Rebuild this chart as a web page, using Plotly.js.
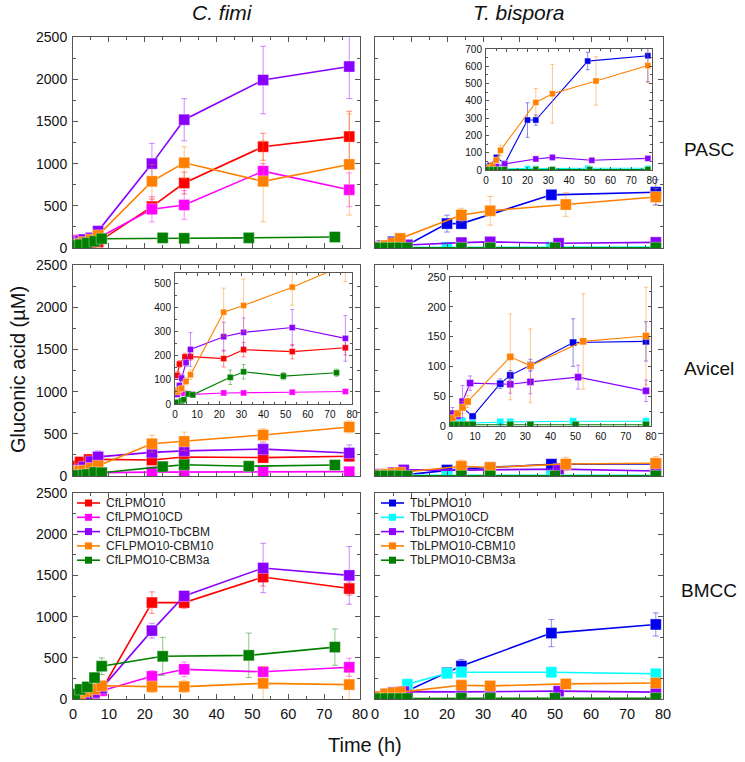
<!DOCTYPE html>
<html>
<head>
<meta charset="utf-8">
<script src="https://cdn.plot.ly/plotly-3.0.1.min.js"></script>
<style>html,body{margin:0;padding:0;background:#fff;}#chart{width:745px;height:762px;}</style>
</head>
<body>
<div id="chart"></div>
<script>
// ---------- Labels ----------
const cfNames = ['CfLPMO10', 'CfLPMO10CD', 'CfLPMO10-TbCBM', 'CFLPMO10-CBM10', 'CfLPMO10-CBM3a'];
const tbNames = ['TbLPMO10', 'TbLPMO10CD', 'TbLPMO10-CfCBM', 'TbLPMO10-CBM10', 'TbLPMO10-CBM3a'];
const substrates = ['PASC', 'Avicel', 'BMCC'];
const organisms = ['C. fimi', 'T. bispora'];
const xTicks = [0, 10, 20, 30, 40, 50, 60, 70, 80];

// ---------- C. fimi, PASC ----------
const cfPascRedT = [1, 2, 3, 5, 7, 22, 31, 53, 77];
const cfPascRedY = [20, 30, 35, 45, 70, 490, 770, 1200, 1320];
const cfPascRedE = [10, 10, 10, 15, 20, 90, 130, 160, 300];
const cfPascMagT = [1, 2, 3, 5, 7, 22, 31, 53, 77];
const cfPascMagY = [90, 95, 100, 110, 120, 460, 510, 910, 690];
const cfPascMagE = [10, 10, 10, 15, 20, 150, 170, 90, 200];
const cfPascPurT = [1, 2, 3, 5, 7, 22, 31, 53, 77];
const cfPascPurY = [60, 80, 100, 120, 200, 1000, 1520, 1990, 2150];
const cfPascPurE = [10, 10, 15, 20, 30, 240, 250, 400, 380];
const cfPascOraT = [1, 2, 3, 5, 7, 22, 31, 53, 77];
const cfPascOraY = [40, 50, 70, 100, 150, 790, 1010, 790, 990];
const cfPascOraE = [10, 10, 15, 20, 30, 200, 190, 480, 600];
const cfPascGrnT = [1, 2, 4, 6, 8, 25, 31, 49, 73];
const cfPascGrnY = [30, 40, 60, 80, 110, 120, 115, 120, 130];
const cfPascGrnE = [5, 5, 5, 10, 10, 10, 10, 10, 10];

// ---------- C. fimi, Avicel ----------
const cfAviRedT = [1, 2, 4.5, 7, 22, 31, 53, 77];
const cfAviRedY = [119, 166, 196, 197, 189, 226, 218, 234];
const cfAviRedE = [15, 15, 15, 15, 35, 30, 30, 30];
const cfAviMagT = [1, 2, 4, 6, 8, 22, 31, 53, 77];
const cfAviMagY = [57, 50, 45, 42, 40, 46, 46, 49, 52];
const cfAviMagE = [5, 5, 5, 5, 5, 5, 5, 5, 5];
const cfAviPurT = [1, 2, 3, 5, 7, 22, 31, 53, 77];
const cfAviPurY = [40, 77, 108, 172, 227, 280, 298, 318, 273];
const cfAviPurE = [10, 10, 15, 15, 70, 60, 60, 75, 95];
const cfAviOraT = [0.5, 1, 2, 3, 5, 7, 22, 31, 53, 77];
const cfAviOraY = [55, 50, 60, 65, 94, 122, 382, 410, 486, 580];
const cfAviOraE = [10, 10, 10, 10, 15, 20, 100, 110, 75, 70];
const cfAviGrnT = [1, 3, 4, 6, 8, 25, 31, 49, 73];
const cfAviGrnY = [7, 13, 18, 42, 38, 111, 134, 116, 130];
const cfAviGrnE = [3, 3, 3, 8, 8, 30, 30, 15, 15];

// ---------- C. fimi, BMCC ----------
const cfBmRedT = [1, 2, 4, 6, 8, 22, 31, 53, 77];
const cfBmRedY = [10, 20, 30, 50, 110, 1170, 1170, 1480, 1340];
const cfBmRedE = [5, 5, 10, 10, 20, 130, 70, 110, 80];
const cfBmMagT = [1, 2, 4, 6, 8, 22, 31, 53, 77];
const cfBmMagY = [20, 30, 50, 70, 100, 275, 360, 330, 385];
const cfBmMagE = [5, 5, 10, 10, 20, 70, 90, 40, 110];
const cfBmPurT = [1, 2, 4, 6, 8, 22, 31, 53, 77];
const cfBmPurY = [10, 30, 50, 80, 130, 830, 1250, 1590, 1500];
const cfBmPurE = [5, 5, 10, 10, 20, 90, 50, 300, 350];
const cfBmOraT = [1, 2, 4, 6, 8, 22, 31, 53, 77];
const cfBmOraY = [40, 60, 90, 120, 160, 150, 150, 190, 175];
const cfBmOraE = [10, 10, 10, 20, 30, 70, 70, 200, 180];
const cfBmGrnT = [0.5, 2, 4, 6, 8, 25, 49, 73];
const cfBmGrnY = [60, 116, 147, 259, 398, 518, 530, 630];
const cfBmGrnE = [20, 30, 40, 60, 100, 230, 270, 220];

// ---------- T. bispora, PASC ----------
const tbPascBluT = [1, 2, 5, 9, 20, 24, 49, 78];
const tbPascBluY = [19, 27, 73, 37, 289, 289, 630, 661];
const tbPascBluE = [5, 5, 10, 5, 100, 30, 50, 150];
const tbPascCyaT = [1, 5, 9, 20, 24, 49, 78];
const tbPascCyaY = [5, 5, 5, 8, 8, 10, 10];
const tbPascCyaE = [2, 2, 2, 2, 2, 2, 2];
const tbPascPurT = [1, 2, 5, 9, 24, 32, 51, 78];
const tbPascPurY = [10, 15, 21, 35, 64, 73, 56, 67];
const tbPascPurE = [5, 5, 5, 5, 15, 15, 10, 10];
const tbPascOraT = [1, 3, 5, 7, 24, 32, 53, 78];
const tbPascOraY = [13, 29, 58, 114, 391, 441, 515, 604];
const tbPascOraE = [5, 10, 15, 30, 80, 170, 140, 100];
const tbPascGrnT = [1, 3, 5, 7, 9, 24, 32, 50, 78];
const tbPascGrnY = [2, 2, 2, 2, 2, 3, 3, 3, 3];
const tbPascGrnE = [1, 1, 1, 1, 1, 1, 1, 1, 1];

// ---------- T. bispora, Avicel ----------
const tbAviBluT = [1, 2, 5, 9, 20, 24, 32, 49, 78];
const tbAviBluY = [13, 16, 31, 16, 71, 85, 102, 140, 142];
const tbAviBluE = [3, 3, 5, 5, 8, 8, 10, 40, 33];
const tbAviCyaT = [1, 3, 5, 9, 20, 24, 49, 78];
const tbAviCyaY = [8, 8, 8, 5, 7, 7, 8, 8];
const tbAviCyaE = [1, 1, 1, 1, 1, 1, 1, 1];
const tbAviPurT = [1, 3, 5, 8, 24, 32, 51, 78];
const tbAviPurY = [21, 17, 41, 72, 70, 74, 82, 59];
const tbAviPurE = [10, 5, 27, 12, 15, 20, 20, 18];
const tbAviOraT = [1, 3, 5, 7, 24, 32, 53, 78];
const tbAviOraY = [13, 21, 31, 41, 116, 101, 142, 151];
const tbAviOraE = [5, 5, 10, 10, 72, 62, 80, 82];
const tbAviGrnT = [1, 3, 5, 7, 9, 24, 32, 50, 78];
const tbAviGrnY = [2, 2, 2, 2, 2, 2, 2, 2, 2];
const tbAviGrnE = [1, 1, 1, 1, 1, 1, 1, 1, 1];

// ---------- T. bispora, BMCC ----------
const tbBmBluT = [1, 3, 5, 9, 20, 24, 49, 78];
const tbBmBluY = [20, 40, 70, 100, 320, 400, 800, 905];
const tbBmBluE = [10, 10, 20, 20, 30, 80, 165, 140];
const tbBmCyaT = [1, 3, 5, 9, 20, 24, 49, 78];
const tbBmCyaY = [20, 40, 60, 179, 313, 325, 325, 306];
const tbBmCyaE = [5, 5, 10, 20, 30, 30, 20, 20];
const tbBmPurT = [1, 3, 5, 8, 24, 32, 51, 78];
const tbBmPurY = [30, 60, 80, 90, 87, 91, 95, 83];
const tbBmPurE = [10, 10, 10, 10, 10, 10, 10, 10];
const tbBmOraT = [1, 3, 5, 7, 24, 32, 53, 78];
const tbBmOraY = [30, 63, 75, 83, 167, 159, 183, 194];
const tbBmOraE = [10, 10, 10, 10, 20, 20, 20, 20];
const tbBmGrnT = [1, 3, 5, 7, 9, 24, 32, 50, 78];
const tbBmGrnY = [5, 5, 5, 5, 5, 10, 10, 10, 10];
const tbBmGrnE = [2, 2, 2, 2, 2, 2, 2, 2, 2];

// ---------- Styling ----------
const cfColors = ['#ff0000', '#ff00ff', '#8a00ff', '#ff8000', '#008000'];
const tbColors = ['#0000ee', '#00ffff', '#8a00ff', '#ff8000', '#008000'];
const cfErr = ['rgba(255,0,0,0.45)', 'rgba(255,0,255,0.45)', 'rgba(138,0,255,0.45)', 'rgba(255,128,0,0.45)', 'rgba(0,128,0,0.45)'];
const tbErr = ['rgba(0,0,238,0.45)', 'rgba(0,200,255,0.45)', 'rgba(138,0,255,0.45)', 'rgba(255,128,0,0.45)', 'rgba(0,128,0,0.45)'];

const panelData = {
  cfPasc: [[cfPascRedT, cfPascRedY, cfPascRedE], [cfPascMagT, cfPascMagY, cfPascMagE], [cfPascPurT, cfPascPurY, cfPascPurE], [cfPascOraT, cfPascOraY, cfPascOraE], [cfPascGrnT, cfPascGrnY, cfPascGrnE]],
  cfAvi: [[cfAviRedT, cfAviRedY, cfAviRedE], [cfAviMagT, cfAviMagY, cfAviMagE], [cfAviPurT, cfAviPurY, cfAviPurE], [cfAviOraT, cfAviOraY, cfAviOraE], [cfAviGrnT, cfAviGrnY, cfAviGrnE]],
  cfBm: [[cfBmRedT, cfBmRedY, cfBmRedE], [cfBmMagT, cfBmMagY, cfBmMagE], [cfBmPurT, cfBmPurY, cfBmPurE], [cfBmOraT, cfBmOraY, cfBmOraE], [cfBmGrnT, cfBmGrnY, cfBmGrnE]],
  tbPasc: [[tbPascBluT, tbPascBluY, tbPascBluE], [tbPascCyaT, tbPascCyaY, tbPascCyaE], [tbPascPurT, tbPascPurY, tbPascPurE], [tbPascOraT, tbPascOraY, tbPascOraE], [tbPascGrnT, tbPascGrnY, tbPascGrnE]],
  tbAvi: [[tbAviBluT, tbAviBluY, tbAviBluE], [tbAviCyaT, tbAviCyaY, tbAviCyaE], [tbAviPurT, tbAviPurY, tbAviPurE], [tbAviOraT, tbAviOraY, tbAviOraE], [tbAviGrnT, tbAviGrnY, tbAviGrnE]],
  tbBm: [[tbBmBluT, tbBmBluY, tbBmBluE], [tbBmCyaT, tbBmCyaY, tbBmCyaE], [tbBmPurT, tbBmPurY, tbBmPurE], [tbBmOraT, tbBmOraY, tbBmOraE], [tbBmGrnT, tbBmGrnY, tbBmGrnE]]
};

const panels = [
  {key: 'cfPasc', xa: 'x', ya: 'y', org: 'cf', size: 11, lw: 1.6},
  {key: 'tbPasc', xa: 'x2', ya: 'y2', org: 'tb', size: 11, lw: 1.6},
  {key: 'cfAvi', xa: 'x3', ya: 'y3', org: 'cf', size: 11, lw: 1.6},
  {key: 'tbAvi', xa: 'x4', ya: 'y4', org: 'tb', size: 11, lw: 1.6},
  {key: 'cfBm', xa: 'x5', ya: 'y5', org: 'cf', size: 11, lw: 1.6},
  {key: 'tbBm', xa: 'x6', ya: 'y6', org: 'tb', size: 11, lw: 1.6},
  {key: 'tbPasc', xa: 'x7', ya: 'y7', org: 'tb', size: 6, lw: 1.1},
  {key: 'cfAvi', xa: 'x8', ya: 'y8', org: 'cf', size: 6, lw: 1.1},
  {key: 'tbAvi', xa: 'x9', ya: 'y9', org: 'tb', size: 7, lw: 1.1}
];

const traces = [];
panels.forEach(p => {
  const names = p.org === 'cf' ? cfNames : tbNames;
  const cols = p.org === 'cf' ? cfColors : tbColors;
  const ecols = p.org === 'cf' ? cfErr : tbErr;
  panelData[p.key].forEach((s, i) => {
    traces.push({
      type: 'scatter', mode: 'lines+markers',
      x: s[0], y: s[1],
      xaxis: p.xa, yaxis: p.ya,
      name: names[i],
      line: {color: cols[i], width: p.lw},
      marker: {symbol: 'square', size: p.size, color: cols[i], line: {color: 'rgba(255,255,255,0.35)', width: 1}},
      error_y: {type: 'data', array: s[2], visible: true, color: ecols[i], thickness: 1, width: p.size > 8 ? 3 : 2},
      showlegend: false,
      hoverinfo: 'x+y+name'
    });
  });
});

// ---------- Layout ----------
const axCol = '#555';
function xAxis(domain, anchor, labels, inset) {
  return {
    domain: domain, anchor: anchor, range: [0, 80], tickvals: xTicks, ticktext: xTicks.map(String),
    ticks: 'inside', ticklen: inset ? 3 : 5, tickwidth: 1, tickcolor: axCol,
    minor: {ticks: 'inside', ticklen: inset ? 2 : 3, dtick: 5, tick0: 0, tickcolor: axCol, showgrid: false},
    showline: true, linecolor: axCol, linewidth: 1, mirror: 'ticks',
    showgrid: false, zeroline: false, showticklabels: labels,
    tickfont: {size: inset ? 10 : 14.5, color: '#111'}, ticklabelstandoff: inset ? 1 : 2
  };
}
function yAxis(domain, anchor, labels, range, dtick, inset, fs) {
  return {
    domain: domain, anchor: anchor, range: range, dtick: dtick, tick0: 0,
    ticks: 'inside', ticklen: inset ? 3 : 5, tickwidth: 1, tickcolor: axCol,
    minor: {ticks: 'inside', ticklen: inset ? 2 : 3, dtick: dtick / 2, tick0: 0, tickcolor: axCol, showgrid: false},
    showline: true, linecolor: axCol, linewidth: 1, mirror: 'ticks',
    showgrid: false, zeroline: false, showticklabels: labels,
    tickfont: {size: fs || (inset ? 10 : 14), color: '#111'}, ticklabelstandoff: inset ? 1 : 2
  };
}

// plot area in pixels: x 73..663, y 37..699
const PL = 73, PR = 663, PT = 37, PB = 699;
const px = v => (v - PL) / (PR - PL);
const py = v => (PB - v) / (PB - PT);

const xL = [0, px(360)], xR = [px(375), 1];
const yT = [py(248), 1], yM = [py(476), py(265)], yB = [0, py(493)];

// ---------- Manual legends (compact spacing like the original) ----------
const shapes = [];
const annotations = [];
function addLegend(names, cols, x0, y0, step) {
  names.forEach((n, i) => {
    const yy = y0 + i * step;
    shapes.push({type: 'line', xref: 'paper', yref: 'paper', x0: px(x0), x1: px(x0 + 23), y0: py(yy), y1: py(yy), line: {color: cols[i], width: 1.6}});
    shapes.push({type: 'rect', xref: 'paper', yref: 'paper', x0: px(x0 + 8), x1: px(x0 + 15), y0: py(yy + 3.5), y1: py(yy - 3.5), fillcolor: cols[i], line: {width: 0}});
    annotations.push({text: n, xref: 'paper', yref: 'paper', x: px(x0 + 27), y: py(yy), xanchor: 'left', yanchor: 'middle', showarrow: false, font: {size: 12, color: '#222'}});
  });
}
addLegend(cfNames, cfColors, 77, 503, 14.3);
addLegend(tbNames, tbColors, 381, 503, 14.3);

annotations.push(
  {text: '<i>' + organisms[0] + '</i>', xref: 'paper', yref: 'paper', x: px(222), y: py(12), xanchor: 'center', yanchor: 'middle', showarrow: false, font: {size: 21}},
  {text: '<i>' + organisms[1] + '</i>', xref: 'paper', yref: 'paper', x: px(518), y: py(12), xanchor: 'center', yanchor: 'middle', showarrow: false, font: {size: 21}},
  {text: substrates[0], xref: 'paper', yref: 'paper', x: px(709), y: py(150), xanchor: 'center', yanchor: 'middle', showarrow: false, font: {size: 19}},
  {text: substrates[1], xref: 'paper', yref: 'paper', x: px(709), y: py(368), xanchor: 'center', yanchor: 'middle', showarrow: false, font: {size: 19}},
  {text: substrates[2], xref: 'paper', yref: 'paper', x: px(709), y: py(590), xanchor: 'center', yanchor: 'middle', showarrow: false, font: {size: 19}},
  {text: 'Gluconic acid (µM)', xref: 'paper', yref: 'paper', x: px(18), y: py(370), xanchor: 'center', yanchor: 'middle', textangle: -90, showarrow: false, font: {size: 20}},
  {text: 'Time (h)', xref: 'paper', yref: 'paper', x: px(365), y: py(745), xanchor: 'center', yanchor: 'middle', showarrow: false, font: {size: 20}}
);

const layout = {
  width: 745, height: 762,
  margin: {l: PL, r: 745 - PR, t: PT, b: 762 - PB},
  paper_bgcolor: '#fff', plot_bgcolor: '#fff',
  font: {family: 'Arial, "Liberation Sans", sans-serif', color: '#111'},
  showlegend: false,
  xaxis: xAxis(xL, 'y', false), yaxis: yAxis(yT, 'x', true, [0, 2500], 500),
  xaxis2: xAxis(xR, 'y2', false), yaxis2: yAxis(yT, 'x2', false, [0, 2500], 500),
  xaxis3: xAxis(xL, 'y3', false), yaxis3: yAxis(yM, 'x3', true, [0, 2500], 500),
  xaxis4: xAxis(xR, 'y4', false), yaxis4: yAxis(yM, 'x4', false, [0, 2500], 500),
  xaxis5: xAxis(xL, 'y5', true), yaxis5: yAxis(yB, 'x5', true, [0, 2500], 500),
  xaxis6: xAxis(xR, 'y6', true), yaxis6: yAxis(yB, 'x6', false, [0, 2500], 500),
  xaxis7: xAxis([px(486), px(652)], 'y7', true, true), yaxis7: yAxis([py(170), py(49)], 'x7', true, [0, 700], 100, true),
  xaxis8: xAxis([px(175), px(352)], 'y8', true, true), yaxis8: yAxis([py(404), py(273)], 'x8', true, [0, 545], 100, true),
  xaxis9: xAxis([px(450), px(651)], 'y9', true, true), yaxis9: yAxis([py(426), py(277)], 'x9', true, [0, 250], 50, true, 11),
  shapes: shapes,
  annotations: annotations
};

Plotly.newPlot('chart', traces, layout, {displayModeBar: false, staticPlot: true});
</script>
</body>
</html>
